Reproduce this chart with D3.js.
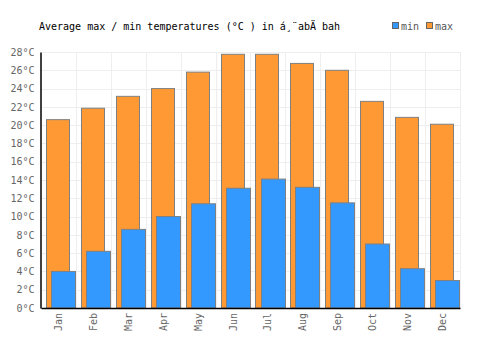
<!DOCTYPE html>
<html>
<head>
<meta charset="utf-8">
<script src="https://cdn.jsdelivr.net/npm/d3@7"></script>
<style>
  body { margin: 0; background: #fff; }
  svg { display: block; }
  text { font-family: "DejaVu Sans Mono", monospace; }
</style>
</head>
<body>
<div id="chart"></div>
<script>
const months = ["Jan","Feb","Mar","Apr","May","Jun","Jul","Aug","Sep","Oct","Nov","Dec"];
const minTemps = [4.0, 6.2, 8.6, 10.0, 11.4, 13.1, 14.1, 13.2, 11.5, 7.0, 4.3, 3.0];
const maxTemps = [20.6, 21.85, 23.15, 24.0, 25.8, 27.75, 27.75, 26.75, 26.0, 22.6, 20.85, 20.1];
const yTicks = [0, 2, 4, 6, 8, 10, 12, 14, 16, 18, 20, 22, 24, 26, 28];
const titleText = "Average max / min temperatures (°C ) in á¸¨abÄ bah";
const legendLabels = ["min", "max"];

const W = 500, H = 350;
const margin = { left: 41, right: 40, top: 52, bottom: 42 };
const colors = { min: "#3399ff", max: "#ff9933" };

const svg = d3.select("#chart").append("svg").attr("width", W).attr("height", H);

const x = d3.scaleBand().domain(months).range([margin.left, W - margin.right]).padding(0);
const y = d3.scaleLinear().domain([0, 28]).range([H - margin.bottom, margin.top]);
const bw = x.bandwidth();

// grid
const grid = svg.append("g");
grid.selectAll("line.h").data(yTicks).enter().append("line")
  .attr("x1", margin.left).attr("x2", W - margin.right)
  .attr("y1", d => Math.round(y(d)) + 0.5).attr("y2", d => Math.round(y(d)) + 0.5)
  .attr("stroke", "#eeeeee").attr("stroke-width", 1);
const vb = months.map(m => x(m) + bw).concat([]);
grid.selectAll("line.v").data(vb).enter().append("line")
  .attr("x1", d => Math.round(d) + 0.5).attr("x2", d => Math.round(d) + 0.5)
  .attr("y1", margin.top).attr("y2", H - margin.bottom)
  .attr("stroke", "#eeeeee").attr("stroke-width", 1);

// max bars
svg.append("g").selectAll("rect").data(months).enter().append("rect")
  .attr("x", (d) => Math.round(x(d) + 0.143 * bw) + 0.5)
  .attr("width", Math.round(0.67 * bw))
  .attr("y", (d, i) => y(maxTemps[i]))
  .attr("height", (d, i) => y(0) - y(maxTemps[i]))
  .attr("fill", colors.max).attr("stroke", "#808080").attr("stroke-width", 1);

// min bars
svg.append("g").selectAll("rect").data(months).enter().append("rect")
  .attr("x", (d) => Math.round(x(d) + 0.287 * bw) + 0.5)
  .attr("width", Math.round(0.70 * bw))
  .attr("y", (d, i) => y(minTemps[i]))
  .attr("height", (d, i) => y(0) - y(minTemps[i]))
  .attr("fill", colors.min).attr("stroke", "#808080").attr("stroke-width", 1);

// axes
const yAxis = d3.axisLeft(y).tickValues(yTicks).tickSize(0).tickPadding(6).tickFormat(d => d + "°C");
const gy = svg.append("g").attr("transform", `translate(${margin.left - 0.5},0)`).call(yAxis);
gy.select(".domain").attr("stroke", "#000").attr("stroke-width", 1.5);
gy.selectAll("text").attr("fill", "#666").attr("font-size", "10px").attr("font-family", "DejaVu Sans Mono, monospace");

const xAxis = d3.axisBottom(x).tickSize(0).tickPadding(0);
const gx = svg.append("g").attr("transform", `translate(0,${H - margin.bottom})`).call(xAxis);
gx.select(".domain").attr("stroke", "#000").attr("stroke-width", 1.5);
gx.selectAll("text")
  .attr("fill", "#666").attr("font-size", "10px").attr("font-family", "DejaVu Sans Mono, monospace")
  .attr("text-anchor", "end")
  .attr("transform", "rotate(-90)")
  .attr("x", -5).attr("y", 0).attr("dy", "0.35em");

// title
svg.append("text").attr("x", 39).attr("y", 30).attr("font-size", "10px")
  .attr("fill", "#000").text(titleText);

// legend
const legX = [392, 426];
const lg = svg.append("g");
legendLabels.forEach((lab, i) => {
  lg.append("rect").attr("x", legX[i] + 0.5).attr("y", 22.5).attr("width", 6).attr("height", 6)
    .attr("fill", colors[lab]).attr("stroke", "#666").attr("stroke-width", 1);
  lg.append("text").attr("x", legX[i] + 9).attr("y", 30).attr("font-size", "10px")
    .attr("fill", "#555").text(lab);
});
</script>
</body>
</html>
